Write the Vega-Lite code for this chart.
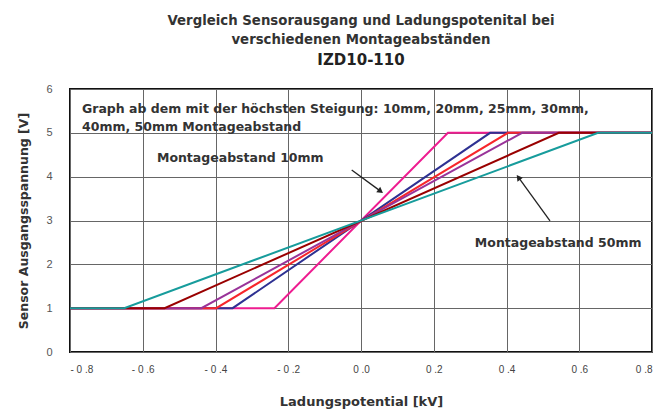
{
  "$schema": "https://vega.github.io/schema/vega-lite/v6.json",
  "width": 582,
  "height": 263,
  "autosize": {"type": "none"},
  "padding": {"left": 70, "top": 89, "right": 4, "bottom": 62},
  "background": "white",
  "config": {
    "font": "Liberation Sans",
    "view": {"stroke": "#111", "strokeWidth": 2},
    "axis": {"gridColor": "#666", "gridWidth": 1, "gridOpacity": 1, "domain": false, "ticks": false}
  },
  "title": {
    "text": ["Vergleich Sensorausgang und Ladungspotenital bei", "verschiedenen Montageabständen"],
    "subtitle": "IZD10-110",
    "anchor": "middle",
    "font": "DejaVu Sans",
    "fontSize": 13.3,
    "fontWeight": "bold",
    "color": "#333",
    "lineHeight": 19,
    "subtitleFont": "DejaVu Sans",
    "subtitleFontSize": 15,
    "subtitleFontWeight": "bold",
    "subtitleColor": "#222",
    "subtitlePadding": 7,
    "offset": 15
  },
  "datasets": {
    "curves": [
      {"series": "10mm", "order": 1, "x": -0.8, "y": 1},
      {"series": "10mm", "order": 2, "x": -0.238, "y": 1},
      {"series": "10mm", "order": 3, "x": 0.239, "y": 5},
      {"series": "10mm", "order": 4, "x": 0.8, "y": 5},
      {"series": "20mm", "order": 1, "x": -0.8, "y": 1},
      {"series": "20mm", "order": 2, "x": -0.353, "y": 1},
      {"series": "20mm", "order": 3, "x": 0.355, "y": 5},
      {"series": "20mm", "order": 4, "x": 0.8, "y": 5},
      {"series": "25mm", "order": 1, "x": -0.8, "y": 1},
      {"series": "25mm", "order": 2, "x": -0.398, "y": 1},
      {"series": "25mm", "order": 3, "x": 0.404, "y": 5},
      {"series": "25mm", "order": 4, "x": 0.8, "y": 5},
      {"series": "30mm", "order": 1, "x": -0.8, "y": 1},
      {"series": "30mm", "order": 2, "x": -0.439, "y": 1},
      {"series": "30mm", "order": 3, "x": 0.443, "y": 5},
      {"series": "30mm", "order": 4, "x": 0.8, "y": 5},
      {"series": "40mm", "order": 1, "x": -0.8, "y": 1},
      {"series": "40mm", "order": 2, "x": -0.54, "y": 1},
      {"series": "40mm", "order": 3, "x": 0.544, "y": 5},
      {"series": "40mm", "order": 4, "x": 0.8, "y": 5},
      {"series": "50mm", "order": 1, "x": -0.8, "y": 1},
      {"series": "50mm", "order": 2, "x": -0.651, "y": 1},
      {"series": "50mm", "order": 3, "x": 0.652, "y": 5},
      {"series": "50mm", "order": 4, "x": 0.8, "y": 5}
    ],
    "notes": [
      {"x": -0.767, "y": 5.544, "text": "Graph ab dem mit der höchsten Steigung: 10mm, 20mm, 25mm, 30mm,"},
      {"x": -0.767, "y": 5.133, "text": "40mm, 50mm Montageabstand"},
      {"x": -0.561, "y": 4.426, "text": "Montageabstand 10mm"},
      {"x": 0.313, "y": 2.487, "text": "Montageabstand 50mm"}
    ],
    "arrows": [
      {"arrow": "10mm", "x": -0.0256, "y": 4.152, "x2": 0.0517, "y2": 3.682},
      {"arrow": "50mm", "x": 0.5196, "y": 2.989, "x2": 0.4344, "y2": 3.965}
    ]
  },
  "layer": [
    {
      "data": {"name": "curves"},
      "mark": {"type": "line", "strokeWidth": 2},
      "encoding": {
        "x": {
          "field": "x", "type": "quantitative",
          "scale": {"domain": [-0.8, 0.8], "nice": false, "zero": false},
          "axis": {
            "title": "Ladungspotential [kV]",
            "values": [-0.8, -0.6, -0.4, -0.2, 0, 0.2, 0.4, 0.6, 0.8],
            "labelExpr": "(datum.value < -0.001 ? '- ' : '') + floor(abs(datum.value) + 0.001) + ' .' + (round(abs(datum.value) * 10) % 10)",
            "labelFontSize": 10,
            "labelColor": "#444",
            "labelPadding": 12,
            "titleFont": "DejaVu Sans",
            "titleFontSize": 13,
            "titleFontWeight": "bold",
            "titleColor": "#333",
            "titlePadding": 21
          }
        },
        "y": {
          "field": "y", "type": "quantitative",
          "scale": {"domain": [0, 6], "nice": false},
          "axis": {
            "title": "Sensor Ausgangsspannung [V]",
            "values": [0, 1, 2, 3, 4, 5, 6],
            "labelFontSize": 11,
            "labelColor": "#555",
            "labelPadding": 18,
            "titleFont": "DejaVu Sans",
            "titleFontSize": 12.5,
            "titleFontWeight": "bold",
            "titleColor": "#333",
            "titlePadding": 15
          }
        },
        "color": {
          "field": "series", "type": "nominal",
          "scale": {
            "domain": ["10mm", "20mm", "25mm", "30mm", "40mm", "50mm"],
            "range": ["#EE1C90", "#2E3192", "#F7262B", "#993399", "#990000", "#179C9C"]
          },
          "legend": null
        },
        "order": {"field": "order", "type": "quantitative"}
      }
    },
    {
      "data": {"name": "notes"},
      "mark": {"type": "text", "align": "left", "baseline": "middle", "font": "DejaVu Sans", "fontSize": 12.5, "fontWeight": "bold", "color": "#333"},
      "encoding": {
        "x": {"field": "x", "type": "quantitative"},
        "y": {"field": "y", "type": "quantitative"},
        "text": {"field": "text", "type": "nominal"}
      }
    },
    {
      "data": {"name": "arrows"},
      "mark": {"type": "rule", "color": "#222", "strokeWidth": 1.3},
      "encoding": {
        "x": {"field": "x", "type": "quantitative"},
        "y": {"field": "y", "type": "quantitative"},
        "x2": {"field": "x2"},
        "y2": {"field": "y2"}
      }
    },
    {
      "data": {"name": "arrows"},
      "transform": [{"filter": "datum.arrow == '10mm'"}],
      "mark": {"type": "point", "shape": "triangle", "filled": true, "color": "#222", "size": 45, "angle": 126, "opacity": 1},
      "encoding": {
        "x": {"field": "x2", "type": "quantitative"},
        "y": {"field": "y2", "type": "quantitative"}
      }
    },
    {
      "data": {"name": "arrows"},
      "transform": [{"filter": "datum.arrow == '50mm'"}],
      "mark": {"type": "point", "shape": "triangle", "filled": true, "color": "#222", "size": 45, "angle": 324, "opacity": 1},
      "encoding": {
        "x": {"field": "x2", "type": "quantitative"},
        "y": {"field": "y2", "type": "quantitative"}
      }
    }
  ]
}
